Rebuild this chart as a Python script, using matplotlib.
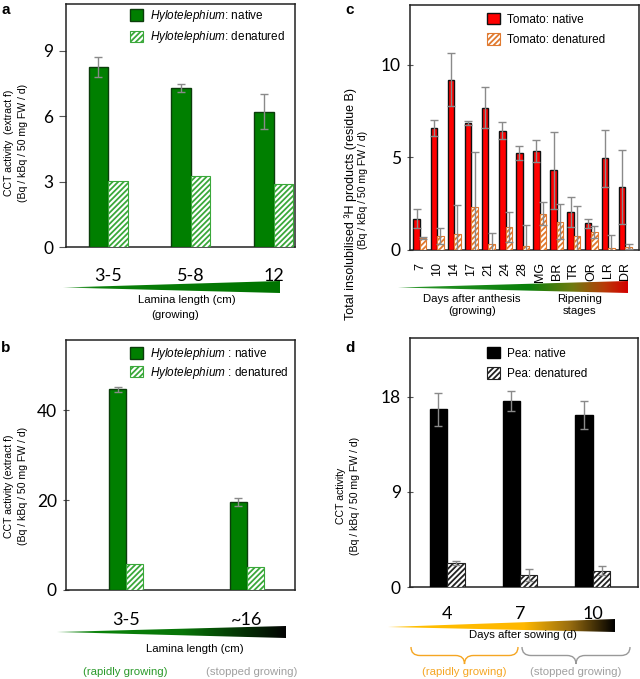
import matplotlib
matplotlib.use('Agg')
import matplotlib.pyplot as plt
import numpy as np
from matplotlib.colors import LinearSegmentedColormap
from matplotlib.patches import Polygon, PathPatch
from matplotlib.path import Path

plt.rcParams['font.family'] = ['Liberation Sans', 'DejaVu Sans']
plt.rcParams['mathtext.fontset'] = 'custom'
plt.rcParams['mathtext.it'] = 'Liberation Sans:italic'
plt.rcParams['mathtext.rm'] = 'Liberation Sans'
plt.rcParams['hatch.linewidth'] = 1.3

# ---- data ----
a_cats = ['3-5', '5-8', '12']
a_native = [8.25, 7.3, 6.2]
a_native_err = [0.45, 0.2, 0.8]
a_denat = [3.05, 3.25, 2.9]

b_cats = ['3-5', '~16']
b_native = [44.6, 19.5]
b_native_err = [0.6, 0.9]
b_denat = [5.7, 5.1]

c_cats = ['7', '10', '14', '17', '21', '24', '28', 'MG', 'BR', 'TR', 'OR', 'LR', 'DR']
c_native = [1.7, 6.6, 9.2, 6.85, 7.7, 6.45, 5.25, 5.35, 4.3, 2.05, 1.45, 4.95, 3.4]
c_native_err = [0.5, 0.43, 1.43, 0.1, 1.12, 0.45, 0.37, 0.57, 2.1, 0.83, 0.24, 1.53, 2.0]
c_denat = [0.65, 0.76, 0.87, 2.35, 0.33, 1.25, 0.2, 1.97, 1.54, 0.76, 0.98, 0.13, 0.18]
c_denat_err = [0.04, 0.43, 1.57, 2.95, 0.57, 0.8, 1.16, 0.6, 0.96, 1.64, 0.32, 0.68, 0.13]

d_cats = ['4', '7', '10']
d_native = [16.8, 17.6, 16.3]
d_native_err = [1.6, 0.95, 1.33]
d_denat = [2.25, 1.13, 1.55]
d_denat_err = [0.2, 0.6, 0.4]

W, H = 640, 679
fig = plt.figure(figsize=(W / 100, H / 100), dpi=100)


def px_axes(l, t, r, b):
    return fig.add_axes([l / W, 1 - b / H, (r - l) / W, (b - t) / H])


ERR = dict(fmt='none', ecolor='#8a8a8a', elinewidth=1, capsize=2.8, capthick=1, zorder=5)


def panel(ax, cats, nat, nat_err, den, den_err, w, natc, natedge, denc,
          xlim, ylim, yticks, labels, legpos, legspace, tickdir, xfont, xpad):
    x = np.arange(len(cats))
    b1 = ax.bar(x - w / 2, nat, w, color=natc, edgecolor=natedge, linewidth=1, zorder=3)
    b2 = ax.bar(x + w / 2, den, w, color='white', edgecolor=denc, hatch='//////',
                linewidth=0.8, zorder=3)
    ax.errorbar(x - w / 2, nat, yerr=nat_err, **ERR)
    if den_err is not None:
        ax.errorbar(x + w / 2, den, yerr=den_err, **ERR)
    ax.set_xlim(*xlim)
    ax.set_ylim(*ylim)
    ax.set_yticks(yticks)
    ax.set_yticklabels([str(v) for v in yticks], fontfamily='Lato', fontsize=12.5)
    ax.tick_params(axis='y', direction=tickdir, length=5, color='#555555', pad=4)
    ax.set_xticks(x)
    ax.set_xticklabels(cats, **xfont)
    ax.tick_params(axis='x', length=0, pad=xpad)
    for s in ax.spines.values():
        s.set_linewidth(1.1)
        s.set_color('#222222')
    lx, ly = legpos
    ax.legend([b1, b2], labels, loc='upper left', bbox_to_anchor=(lx / W, 1 - ly / H),
              bbox_transform=fig.transFigure, frameon=False, fontsize=8.5,
              handlelength=1.1, handleheight=1.1, handletextpad=0.6,
              labelspacing=legspace, borderpad=0, borderaxespad=0)


big = dict(fontfamily='Lato', fontsize=13)

ax_a = px_axes(66, 4, 295, 247)
panel(ax_a, a_cats, a_native, a_native_err, a_denat, None, 0.237, '#007f00', '#0b3d0b', '#3aa83a',
      (-0.51, 2.26), (0, 11.15), [0, 3, 6, 9],
      [r'$\mathit{Hylotelephium}$: native', r'$\mathit{Hylotelephium}$: denatured'],
      (130, 8), 0.45, 'out', big, 15)

ax_b = px_axes(66, 340, 295, 590)
panel(ax_b, b_cats, b_native, b_native_err, b_denat, None, 0.14, '#007f00', '#0b3d0b', '#3aa83a',
      (-0.5, 1.4), (0, 55.6), [0, 20, 40],
      [r'$\mathit{Hylotelephium}$ : native', r'$\mathit{Hylotelephium}$ : denatured'],
      (130, 346), 0.22, 'inout', big, 16)

ax_c = px_axes(410, 5, 639, 250)
panel(ax_c, c_cats, c_native, c_native_err, c_denat, c_denat_err, 0.38, '#ff0000', '#111111', '#e07a30',
      (-0.58, 12.8), (0, 13.24), [0, 5, 10],
      ['Tomato: native', 'Tomato: denatured'],
      (487, 13), 0.65, 'inout', dict(fontsize=9, rotation=90), 9)

ax_d = px_axes(410, 338, 638, 587)
panel(ax_d, d_cats, d_native, d_native_err, d_denat, d_denat_err, 0.24, '#000000', '#000000', '#222222',
      (-0.51, 2.62), (0, 23.56), [0, 9, 18],
      ['Pea: native', 'Pea: denatured'],
      (487, 347), 0.65, 'inout', big, 14)

# ---- overlay in pixel coordinates ----
ov = fig.add_axes([0, 0, 1, 1], zorder=10)
ov.set_xlim(0, W)
ov.set_ylim(H, 0)
ov.axis('off')
ov.patch.set_alpha(0)


def wedge(x0, x1, ytip, ytop, ybot, stops):
    cmap = LinearSegmentedColormap.from_list('w', stops)
    grad = np.linspace(0, 1, 256)[None, :]
    im = ov.imshow(grad, cmap=cmap, extent=(x0, x1, ybot, ytop), aspect='auto', interpolation='bilinear')
    poly = Polygon([(x0, ytip), (x1, ytop), (x1, ybot)], closed=True,
                   facecolor='none', edgecolor='none', transform=ov.transData)
    ov.add_patch(poly)
    im.set_clip_path(poly)


wedge(63, 280, 287.5, 281, 293, [(0, '#6ab46a'), (0.15, '#0b800b'), (1, '#007400')])
wedge(57, 286, 632, 626, 638, [(0, '#3a9a3a'), (0.2, '#0a820a'), (0.55, '#087508'), (1, '#030303')])
wedge(398, 628, 287.5, 281, 293, [(0, '#2c962c'), (0.57, '#0a800a'), (0.76, '#6f7a10'),
                                  (0.9, '#b83a08'), (1, '#d40000')])
wedge(388, 615, 627, 619, 632, [(0, '#ffc000'), (0.6, '#ffb800'), (0.8, '#9a6e10'), (1, '#000000')])

ov.set_xlim(0, W)
ov.set_ylim(H, 0)


def brace(xl, xr, y0, y1, color):
    xc = (xl + xr) / 2
    ym = (y0 + y1) / 2
    r = 9
    verts = [(xl, y0), (xl, ym), (xl + r, ym), (xc - r, ym), (xc, ym), (xc, y1),
             (xc, ym), (xc + r, ym), (xr - r, ym), (xr, ym), (xr, y0)]
    codes = [Path.MOVETO, Path.CURVE3, Path.CURVE3, Path.LINETO, Path.CURVE3, Path.CURVE3,
             Path.CURVE3, Path.CURVE3, Path.LINETO, Path.CURVE3, Path.CURVE3]
    ov.add_patch(PathPatch(Path(verts, codes), facecolor='none', edgecolor=color, lw=1))


brace(411, 518, 647, 664, '#f5a623')
brace(522, 630, 647, 664, '#999999')

T = dict(ha='center', va='center', fontsize=8.2)
ov.text(187, 300, 'Lamina length (cm)', **T)
ov.text(175, 315, '(growing)', **T)
ov.text(195, 649, 'Lamina length (cm)', **T)
ov.text(125, 672, '(rapidly growing)', color='#2a9a2a', **T)
ov.text(252, 672, '(stopped growing)', color='#a0a0a0', **T)
ov.text(472, 305, 'Days after anthesis\n(growing)', linespacing=1.35, **T)
ov.text(580, 305, 'Ripening\nstages', linespacing=1.35, **T)
ov.text(523, 635, 'Days after sowing (d)', **T)
ov.text(464, 672, '(rapidly growing)', color='#f5a623', **T)
ov.text(576, 672, '(stopped growing)', color='#a0a0a0', **T)

# y axis labels
Y = dict(ha='center', va='center', rotation=90, fontsize=7.6, linespacing=1.5)
ov.text(16, 143, 'CCT activity  (extract f)\n(Bq / kBq / 50 mg FW / d)', **Y)
ov.text(16, 486, 'CCT activity (extract f)\n(Bq / kBq / 50 mg FW / d)', **Y)
ov.text(351, 204, 'Total insolubilised ³H products (residue B)', ha='center', va='center',
        rotation=90, fontsize=9)
ov.text(363, 190, '(Bq / kBq / 50 mg FW / d)', ha='center', va='center', rotation=90, fontsize=7.6)
ov.text(348, 496, 'CCT activity\n(Bq / kBq / 50 mg FW / d)', **Y)

# panel letters
L = dict(ha='center', va='center', fontsize=11, fontweight='bold')
ov.text(6, 10, 'a', **L)
ov.text(350, 10, 'c', **L)
ov.text(6, 348, 'b', **L)
ov.text(350, 348, 'd', **L)

plt.savefig('out.png', dpi=100)
